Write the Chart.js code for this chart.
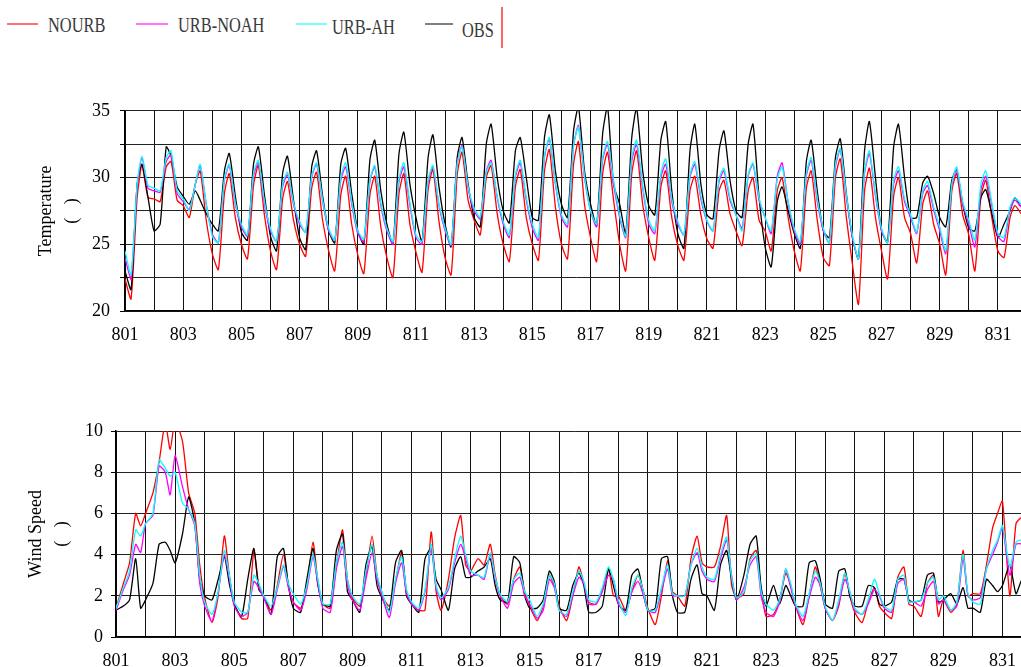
<!DOCTYPE html>
<html>
<head>
<meta charset="utf-8">
<script src="https://cdn.jsdelivr.net/npm/chart.js@4.4.0/dist/chart.umd.min.js"></script>
<style>
  html, body { margin: 0; padding: 0; background: #fff; overflow: hidden; width: 1021px; height: 667px; }
  .legend-line { position: absolute; height: 2px; }
  .legend-text { position: absolute; font-family: 'Liberation Serif', 'Times New Roman', serif; font-size: 21px; line-height: 21px;
                 color: #3a3a3a; transform: scaleX(0.78); transform-origin: left center; white-space: nowrap; }
  canvas { position: absolute; left: 0; }
</style>
</head>
<body>
<div id="legend"></div>
<canvas id="tempChart" width="1040" height="260" style="top:90px"></canvas>
<canvas id="windChart" width="1045" height="257" style="top:410px"></canvas>
<script>
// --- DATA ---
// x axis: days of August (801 = 1 Aug), one value per listed hour of each day
const xTickLabels = ['801', '803', '805', '807', '809', '811', '813', '815', '817', '819', '821', '823', '825', '827', '829', '831'];
const tempTickLabels = [20, 25, 30, 35];
const windTickLabels = [0, 2, 4, 6, 8, 10];
const seriesNames = ['NOURB', 'URB-NOAH', 'URB-AH', 'OBS'];

// temperature sampled at these hours of each day
const tempHours = [0, 5, 10, 14, 19];
const tempNOURB = [
    22.4, 20.9, 28.5, 30.9, 28.5,   28.4, 28.2, 30.8, 31.2, 28.3,   27.9, 27.0, 29.5, 30.5, 26.8,   24.3, 23.1, 28.8, 30.3, 27.0,
    25.0, 23.9, 29.4, 30.9, 27.2,   24.5, 23.1, 28.4, 29.7, 26.8,   25.0, 24.1, 29.2, 30.4, 26.8,   24.5, 23.0, 28.7, 30.1, 26.5,
    24.2, 22.8, 28.7, 30.1, 26.3,   24.0, 22.5, 28.8, 30.3, 26.5,   24.4, 22.9, 29.1, 30.6, 26.7,   24.0, 22.7, 30.2, 31.9, 28.3,
    26.8, 25.7, 30.0, 30.9, 27.3,   25.0, 23.7, 29.3, 30.6, 27.0,   25.0, 23.8, 30.5, 32.1, 27.8,   25.0, 23.9, 31.0, 32.7, 28.0,
    25.5, 23.7, 30.3, 31.9, 28.3,   25.0, 23.0, 30.3, 32.0, 28.0,   25.5, 23.8, 29.3, 30.5, 27.0,   24.9, 23.8, 29.0, 30.1, 27.2,
    25.4, 24.7, 29.0, 29.8, 27.3,   26.0, 24.9, 29.0, 30.0, 26.8,   26.0, 24.5, 29.0, 30.0, 27.0,   24.5, 23.0, 29.2, 30.5, 26.8,
    24.0, 23.4, 30.0, 31.4, 27.0,   23.5, 20.5, 29.0, 30.7, 27.0,   24.5, 22.4, 28.6, 30.0, 27.0,   25.8, 23.6, 28.0, 29.0, 26.5,
    25.0, 22.7, 29.0, 30.3, 27.2,   25.7, 23.0, 28.6, 29.8, 27.0,   24.5, 24.0, 27.0, 27.9, 27.3
];
const tempURBNOAH = [
    24.0, 22.4, 29.3, 31.5, 29.2,   29.0, 28.9, 31.2, 31.7, 28.8,   28.2, 27.6, 29.5, 30.9, 28.0,   25.8, 25.1, 29.8, 30.9, 28.0,
    26.3, 25.6, 30.1, 31.1, 28.0,   26.0, 25.2, 29.3, 30.2, 28.0,   26.5, 25.9, 30.0, 31.0, 28.2,   26.0, 25.3, 29.8, 30.8, 28.0,
    25.8, 25.2, 29.7, 30.8, 27.9,   26.0, 25.0, 29.7, 30.8, 27.9,   25.5, 25.0, 29.7, 30.8, 27.9,   26.0, 24.9, 31.0, 32.4, 29.2,
    27.5, 26.9, 30.5, 31.3, 28.5,   26.5, 25.5, 30.0, 31.1, 28.3,   26.2, 25.3, 31.5, 32.9, 29.5,   27.0, 26.3, 32.4, 33.9, 30.0,
    27.5, 26.3, 31.3, 32.5, 29.5,   27.0, 25.5, 31.2, 32.5, 29.2,   26.5, 25.8, 30.0, 31.0, 28.2,   26.5, 25.7, 30.0, 31.0, 28.4,
    26.7, 26.0, 29.7, 30.5, 28.3,   27.2, 26.2, 30.1, 31.0, 28.3,   27.0, 25.8, 30.1, 31.1, 28.1,   26.0, 25.0, 30.1, 31.3, 28.2,
    26.0, 25.1, 30.8, 32.1, 28.5,   25.5, 23.9, 30.3, 31.8, 28.6,   26.0, 25.1, 29.5, 30.5, 28.2,   27.0, 25.8, 28.8, 29.4, 27.6,
    26.0, 24.3, 29.4, 30.6, 28.0,   26.5, 24.8, 29.1, 30.1, 27.9,   25.6, 25.2, 27.6, 28.3, 27.8
];
const tempURBAH = [
    24.5, 22.7, 29.5, 31.6, 29.4,   29.2, 29.0, 31.5, 32.0, 29.0,   28.4, 27.5, 29.5, 31.0, 28.0,   25.6, 25.1, 29.9, 31.0, 28.1,
    26.5, 25.7, 30.3, 31.3, 28.2,   26.2, 25.2, 29.5, 30.4, 28.1,   26.7, 25.9, 30.1, 31.1, 28.3,   26.2, 25.3, 30.0, 31.1, 28.2,
    26.0, 25.4, 29.8, 30.9, 28.1,   26.2, 25.2, 29.9, 31.1, 28.1,   25.7, 25.2, 29.8, 30.9, 28.0,   26.2, 25.0, 31.0, 32.3, 29.3,
    27.7, 27.0, 30.4, 31.1, 28.6,   26.7, 25.7, 30.2, 31.3, 28.5,   26.5, 25.5, 31.6, 33.0, 29.6,   27.2, 26.5, 32.4, 33.8, 30.1,
    27.5, 26.5, 31.5, 32.7, 29.8,   27.2, 25.6, 31.5, 32.8, 29.4,   26.8, 26.0, 30.3, 31.4, 28.4,   26.7, 25.7, 30.2, 31.2, 28.6,
    26.8, 26.0, 29.9, 30.7, 28.5,   27.2, 26.0, 30.2, 31.1, 28.5,   27.0, 26.0, 29.9, 30.8, 28.2,   26.2, 25.2, 30.3, 31.5, 28.4,
    26.2, 25.1, 31.0, 32.2, 28.7,   25.7, 23.9, 30.5, 32.0, 28.8,   26.2, 25.1, 29.8, 30.8, 28.4,   27.2, 25.9, 29.0, 29.7, 27.8,
    26.3, 24.5, 29.5, 30.8, 28.2,   26.8, 25.3, 29.5, 30.5, 28.1,   25.8, 25.5, 27.8, 28.5, 28.0
];
const tempOBS = [
    23.0, 21.6, 29.5, 31.0, 28.5,   26.0, 26.5, 32.3, 31.6, 29.3,   28.6, 28.0, 29.0, 28.3, 27.3,   26.5, 26.0, 30.5, 31.8, 28.6,
    25.9, 25.3, 31.0, 32.3, 28.7,   25.6, 24.5, 30.3, 31.6, 28.3,   25.5, 24.6, 30.8, 32.0, 28.6,   26.0, 25.1, 31.0, 32.2, 28.8,
    26.0, 25.0, 31.3, 32.8, 29.0,   26.5, 25.0, 31.8, 33.4, 29.5,   27.0, 25.2, 31.5, 33.2, 29.3,   26.5, 24.8, 31.5, 33.0, 29.5,
    27.0, 26.3, 32.5, 34.0, 30.0,   27.5, 26.6, 32.0, 33.0, 30.0,   27.0, 26.8, 33.0, 34.7, 30.5,   28.0, 27.0, 33.5, 35.3, 30.5,
    28.0, 26.4, 33.3, 35.3, 29.5,   28.0, 25.8, 33.0, 35.2, 30.5,   27.9, 27.2, 32.8, 34.2, 29.0,   25.8, 24.7, 32.0, 34.0, 29.5,
    27.2, 26.9, 32.0, 33.5, 29.8,   27.5, 27.0, 32.5, 34.0, 28.5,   24.8, 23.3, 28.2, 29.3, 27.5,   25.8, 24.7, 31.2, 32.8, 29.0,
    26.0, 25.5, 31.5, 32.9, 28.8,   25.5, 23.9, 32.0, 34.2, 30.0,   26.0, 25.2, 32.3, 34.0, 30.0,   27.0, 27.0, 29.6, 30.1, 28.8,
    27.0, 26.3, 29.8, 30.6, 28.0,   26.2, 26.0, 28.5, 29.1, 27.3,   25.5, 26.5, 27.5, 28.5, 27.8
];

// wind speed sampled at these hours of each day
const windHours = [0, 6, 11, 16, 20];
const windNOURB = [
    1.4, 2.6, 3.6, 6.0, 5.4,   6.0, 7.0, 8.5, 10.4, 9.1,   10.5, 9.5, 7.0, 6.0, 3.5,   1.9, 0.7, 2.0, 4.9, 3.0,
    1.6, 0.9, 0.9, 4.2, 2.5,   2.0, 1.3, 2.5, 4.0, 2.5,   1.7, 1.4, 2.5, 4.6, 2.7,   1.6, 1.4, 3.5, 5.2, 2.8,
    1.9, 1.5, 3.0, 4.9, 3.0,   2.0, 1.5, 2.7, 4.1, 2.2,   1.6, 1.3, 1.3, 5.1, 2.2,   1.3, 2.8, 4.8, 5.9, 3.5,
    3.2, 3.8, 3.5, 4.5, 3.0,   2.0, 1.6, 2.8, 3.4, 2.2,   1.5, 0.8, 1.5, 3.0, 2.5,   1.5, 0.8, 2.0, 3.4, 2.6,
    1.7, 1.6, 2.3, 3.3, 2.0,   2.0, 1.3, 2.2, 3.0, 2.3,   1.4, 0.6, 2.0, 3.7, 2.2,   2.0, 1.5, 3.8, 4.9, 3.6,
    3.4, 3.4, 4.4, 5.9, 2.5,   1.9, 2.1, 3.8, 4.2, 2.3,   1.0, 1.1, 1.8, 3.1, 2.5,   1.5, 0.6, 2.0, 3.4, 2.5,
    1.4, 0.8, 1.5, 3.1, 2.0,   1.2, 0.7, 1.7, 2.4, 1.5,   1.2, 0.9, 2.9, 3.4, 1.6,   1.5, 1.0, 2.6, 3.0, 1.0,
    1.8, 1.2, 1.6, 4.2, 2.0,   2.1, 2.1, 3.5, 5.3, 6.0,   6.6, 2.0, 5.5, 5.8, 4.0
];
const windURBNOAH = [
    1.3, 2.3, 3.0, 4.5, 4.1,   5.5, 5.9, 8.3, 8.0, 6.9,   8.8, 7.3, 6.2, 5.4, 2.6,   1.5, 0.75, 2.2, 4.0, 2.9,
    1.5, 1.0, 1.2, 2.7, 2.4,   1.9, 1.1, 2.3, 3.4, 2.4,   1.7, 1.3, 2.3, 3.9, 2.6,   1.4, 1.2, 3.3, 4.4, 2.5,
    1.8, 1.3, 2.8, 4.1, 2.8,   2.0, 0.95, 2.6, 3.6, 2.1,   1.6, 1.3, 2.2, 4.3, 2.4,   1.8, 2.3, 3.6, 4.5, 3.8,
    3.0, 3.0, 2.8, 4.0, 2.8,   2.0, 1.4, 2.6, 2.9, 2.0,   1.6, 0.9, 1.3, 2.8, 2.4,   1.3, 1.0, 2.0, 2.9, 2.6,
    1.6, 1.6, 2.2, 3.0, 2.8,   1.6, 1.2, 2.2, 2.7, 2.1,   1.3, 1.2, 2.2, 3.3, 2.0,   2.0, 2.0, 3.5, 4.1, 3.2,
    2.8, 2.7, 3.8, 4.7, 3.0,   1.8, 2.4, 3.5, 3.9, 2.0,   1.2, 1.0, 1.7, 3.3, 2.4,   1.5, 0.8, 1.9, 2.9, 2.5,
    1.4, 0.8, 1.6, 2.8, 2.2,   1.3, 1.1, 1.6, 2.3, 2.0,   1.4, 1.2, 2.6, 2.8, 1.7,   1.7, 1.5, 2.3, 2.7, 1.6,
    1.8, 1.3, 1.5, 3.8, 2.0,   1.8, 1.9, 3.3, 4.0, 4.6,   5.3, 3.0, 4.5, 4.5, 3.5
];
const windURBAH = [
    1.4, 2.4, 3.2, 5.2, 4.9,   5.5, 6.0, 8.6, 8.2, 7.8,   8.0, 6.5, 6.2, 5.5, 3.0,   1.7, 1.1, 2.2, 4.2, 3.0,
    1.7, 1.2, 1.2, 3.0, 2.6,   2.0, 1.5, 2.4, 3.5, 2.6,   2.1, 1.6, 2.5, 4.0, 2.8,   1.6, 1.6, 3.6, 4.6, 2.8,
    2.0, 1.6, 3.2, 4.5, 3.0,   2.2, 1.2, 2.8, 3.9, 2.3,   1.7, 1.4, 2.3, 4.5, 2.5,   1.9, 2.4, 3.8, 4.9, 4.0,
    3.2, 3.0, 2.9, 4.1, 2.9,   2.1, 1.7, 2.8, 3.1, 2.2,   1.8, 1.0, 1.6, 3.0, 2.6,   1.3, 1.1, 2.2, 3.2, 2.7,
    1.8, 1.7, 2.4, 3.4, 2.8,   1.8, 1.05, 2.4, 3.0, 2.3,   1.3, 1.3, 2.4, 3.5, 2.1,   2.0, 2.0, 3.5, 4.3, 3.4,
    2.9, 2.8, 4.0, 4.85, 2.9,   1.9, 2.2, 3.7, 4.05, 2.2,   1.6, 1.3, 1.8, 3.3, 2.6,   1.6, 1.0, 2.1, 3.2, 2.6,
    1.5, 0.8, 1.8, 3.1, 2.2,   1.4, 1.1, 1.8, 2.8, 2.1,   1.5, 1.3, 2.8, 3.0, 1.7,   1.7, 1.8, 2.6, 2.9, 1.8,
    2.0, 1.3, 1.7, 4.0, 2.1,   1.7, 1.6, 3.3, 4.2, 4.7,   5.4, 3.4, 4.6, 4.7, 3.6
];
const windOBS = [
    1.3, 1.5, 1.8, 3.8, 1.4,   1.8, 2.6, 4.5, 4.6, 4.2,   3.6, 5.0, 6.8, 5.5, 2.8,   2.0, 1.8, 2.8, 3.9, 2.6,
    1.6, 1.0, 2.8, 4.3, 2.3,   2.0, 1.1, 3.9, 4.3, 2.5,   1.4, 1.2, 2.8, 4.3, 2.5,   1.6, 1.5, 4.2, 5.0, 2.2,
    1.8, 1.2, 3.5, 4.4, 2.5,   1.9, 1.3, 3.6, 4.2, 2.0,   1.6, 1.2, 3.8, 4.3, 2.8,   2.3, 1.3, 3.3, 3.9, 2.9,
    2.9, 3.2, 3.4, 3.8, 2.5,   1.8, 1.7, 3.9, 3.6, 2.0,   1.4, 1.4, 1.8, 3.2, 2.7,   1.4, 1.3, 2.5, 3.1, 2.5,
    1.2, 1.2, 1.5, 3.3, 2.5,   1.6, 1.3, 3.0, 3.3, 2.2,   1.3, 1.4, 3.8, 3.9, 2.0,   1.2, 1.2, 2.8, 3.5, 2.1,
    2.0, 1.3, 3.5, 4.2, 2.8,   1.8, 3.0, 4.5, 4.9, 2.4,   1.5, 2.5, 1.6, 2.5, 2.0,   1.5, 1.5, 3.6, 3.7, 2.8,
    1.6, 1.4, 3.2, 3.3, 2.0,   1.5, 1.5, 2.5, 2.4, 1.6,   1.5, 1.7, 2.8, 2.8, 1.8,   1.7, 1.8, 3.0, 3.1, 1.7,
    1.8, 2.1, 1.6, 2.4, 1.4,   1.4, 1.2, 2.8, 2.5, 2.2,   2.5, 3.5, 2.1, 2.8, 2.5
];

// --- STYLE ---
const seriesColors = ['#ff0000', '#ff00ff', '#00ffff', '#000000'];
const legendColors = ['#ff7070', '#ff78ff', '#78ffff', '#808080'];
const drawOrder = [3, 1, 0, 2]; // lower = drawn on top
const tickFont = { family: "'Liberation Serif', 'Times New Roman', serif", size: 18 };

// --- LEGEND (html, above both panels) ---
const renderLegend = () => {
    const legend = document.getElementById('legend');
    const lines = [{ left: 7, width: 31 }, { left: 136, width: 32 }, { left: 296, width: 31 }, { left: 425, width: 28 }];
    const texts = [{ left: 48, top: 15 }, { left: 178, top: 15 }, { left: 332, top: 17 }, { left: 462, top: 20 }];
    seriesNames.forEach((name, i) => {
        legend.innerHTML += `
            <div class="legend-line" style="left:${lines[i].left}px; top:23px; width:${lines[i].width}px; background:${legendColors[i]}"></div>
            <div class="legend-text" style="left:${texts[i].left}px; top:${texts[i].top}px">${name}</div>`;
    });
    legend.innerHTML += `<div class="legend-line" style="left:501px; top:7px; width:2px; height:41px; background:#ff6464"></div>`;
};

// --- CHARTS ---
const toPoints = (values, hours) => values.map((v, i) => ({
    x: 1 + Math.floor(i / hours.length) + hours[i % hours.length] / 24,
    y: v
}));

const makeChart = (canvasId, series, hours, cfg) => {
    const ctx = document.getElementById(canvasId).getContext('2d');
    return new Chart(ctx, {
        type: 'line',
        data: {
            datasets: series.map((values, i) => ({
                label: seriesNames[i],
                data: toPoints(values, hours),
                borderColor: seriesColors[i],
                borderWidth: 1.3,
                pointRadius: 0,
                tension: 0.2,
                fill: false,
                order: drawOrder[i]
            }))
        },
        options: {
            responsive: false,
            animation: false,
            events: [],
            layout: { padding: { top: cfg.padTop, right: cfg.padRight, left: 0, bottom: 0 } },
            plugins: { legend: { display: false }, tooltip: { enabled: false } },
            scales: {
                x: {
                    type: 'linear', min: 1, max: 32,
                    afterFit: scale => { scale.height = cfg.xAxisHeight; },
                    grid: { color: '#111', lineWidth: 1, drawTicks: false },
                    border: { color: '#000', width: 1.5 },
                    ticks: {
                        stepSize: 1, autoSkip: false, maxRotation: 0, padding: cfg.xTickPad,
                        font: tickFont, color: '#000',
                        callback: v => (v % 2 === 1 ? xTickLabels[(v - 1) / 2] : '')
                    }
                },
                y: {
                    min: cfg.yMin, max: cfg.yMax,
                    afterFit: scale => { scale.width = cfg.yAxisWidth; },
                    grid: {
                        color: ctx2 => (cfg.yLabels.includes(ctx2.tick.value) || cfg.yStep === 2.5 ? '#222' : 'transparent'),
                        tickColor: '#000', lineWidth: 1, tickLength: 5
                    },
                    border: { color: '#000', width: 1.5 },
                    ticks: {
                        stepSize: cfg.yStep, padding: cfg.yTickPad, font: tickFont, color: '#000',
                        callback: v => (cfg.yLabels.includes(v) ? String(v) : '')
                    },
                    title: {
                        display: true, text: cfg.title, color: '#000',
                        font: { family: tickFont.family, size: 18, lineHeight: 26 / 18 },
                        padding: { top: cfg.titlePad, bottom: 0 }
                    }
                }
            }
        }
    });
};

renderLegend();

makeChart('tempChart', [tempNOURB, tempURBNOAH, tempURBAH, tempOBS], tempHours, {
    padTop: 20, padRight: 9, xAxisHeight: 39, yAxisWidth: 125,
    yMin: 20, yMax: 35, yStep: 2.5, yLabels: tempTickLabels,
    xTickPad: 13, yTickPad: 10, titlePad: 33,
    title: ['Temperature', '(   )']
});

makeChart('windChart', [windNOURB, windURBNOAH, windURBAH, windOBS], windHours, {
    padTop: 21, padRight: 11, xAxisHeight: 30, yAxisWidth: 116,
    yMin: 0, yMax: 10, yStep: 1, yLabels: windTickLabels,
    xTickPad: 13, yTickPad: 8, titlePad: 23,
    title: ['Wind Speed', '(   )']
});
</script>
</body>
</html>
